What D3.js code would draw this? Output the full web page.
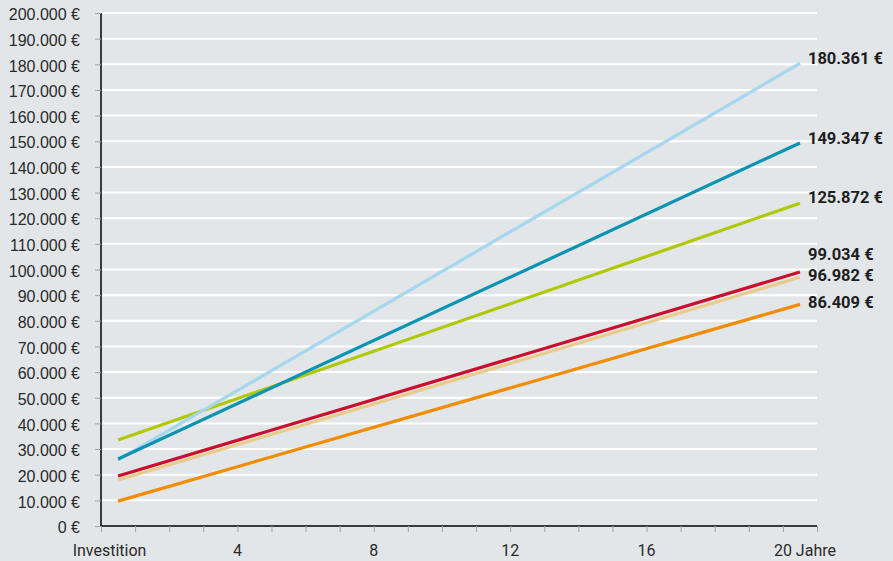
<!DOCTYPE html>
<html>
<head>
<meta charset="utf-8">
<script src="https://cdn.jsdelivr.net/npm/d3@7"></script>
<style>
  html, body { margin: 0; padding: 0; background: #e3e6e9; }
  svg { display: block; font-family: Roboto, "Noto Sans", sans-serif; }
</style>
</head>
<body>
<div id="chart"></div>
<script>
// data
const years = [0.5, 20.5];               // Investition -> 20 Jahre
const seriesNames = ["hellblau", "petrol", "gruen", "rot", "beige", "orange"];
const startValues = [25800, 26100, 33500, 19500, 17900, 9700];
const endValues   = [180361, 149347, 125872, 99034, 96982, 86409];
const endLabels   = ["180.361 €", "149.347 €", "125.872 €", "99.034 €", "96.982 €", "86.409 €"];
const yTicks = d3.range(0, 200001, 10000);
const xTickLabels = [
  {t: 0.25, label: "Investition"},
  {t: 4, label: "4"},
  {t: 8, label: "8"},
  {t: 12, label: "12"},
  {t: 16, label: "16"}
];

const colors = ["#a5d7ee", "#0a93b3", "#b0c800", "#c8102e", "#e9cc8c", "#f28c00"];
// labels are nudged so they don't collide
const labelDy = [-5, -5, -6, -18, -2, -2];

const width = 893, height = 561;
const margin = {left: 101, right: 76, top: 13, bottom: 35};

const svg = d3.select("#chart")
  .append("svg")
  .attr("width", width)
  .attr("height", height);

const x = d3.scaleLinear()
  .domain([0, 21])
  .range([margin.left, width - margin.right]);

const y = d3.scaleLinear()
  .domain([0, 200000])
  .range([height - margin.bottom, margin.top]);

const fmt = v => d3.format(",")(v).replace(/,/g, ".") + " €";

// white grid lines
svg.append("g")
  .selectAll("line")
  .data(yTicks.filter(d => d > 0))
  .join("line")
    .attr("x1", x(0))
    .attr("x2", x(21))
    .attr("y1", d => y(d))
    .attr("y2", d => y(d))
    .attr("stroke", "#fff")
    .attr("stroke-width", 2);

// y axis
const yAxis = svg.append("g")
  .attr("transform", `translate(${x(0)},0)`)
  .call(d3.axisLeft(y).tickValues(yTicks).tickFormat(fmt).tickSize(6).tickPadding(15));
yAxis.select(".domain").attr("stroke", "#000").attr("stroke-width", 1.5).attr("d", `M0,${y(0)}V${y(200000)}`);
yAxis.selectAll(".tick line").attr("stroke", "#a0a4a8");
yAxis.selectAll("text")
  .attr("dy", "0.42em")
  .style("font-size", "16px")
  .attr("fill", "#2b2b2b");

// x axis
const xAxis = svg.append("g")
  .attr("transform", `translate(0,${y(0)})`)
  .call(d3.axisBottom(x).tickValues(d3.range(0, 22)).tickFormat("").tickSize(6));
xAxis.select(".domain").attr("stroke", "#000").attr("stroke-width", 1.5).attr("d", `M${x(0)},0H${x(21)}`);
xAxis.selectAll(".tick line").attr("stroke", "#a0a4a8");

svg.append("g")
  .selectAll("text")
  .data(xTickLabels)
  .join("text")
    .attr("x", d => x(d.t))
    .attr("y", y(0) + 30)
    .attr("text-anchor", "middle")
    .style("font-size", "16px")
    .attr("fill", "#2b2b2b")
    .text(d => d.label);

svg.append("text")
  .attr("x", x(20) - 9)
  .attr("y", y(0) + 30)
  .style("font-size", "16px")
  .attr("fill", "#2b2b2b")
  .text("20 Jahre");

// lines
const series = seriesNames.map((name, i) => ({
  name: name,
  points: [[years[0], startValues[i]], [years[1], endValues[i]]],
  label: endLabels[i],
  i: i
}));

const line = d3.line()
  .x(d => x(d[0]))
  .y(d => y(d[1]));

// draw order: bottom first so petrol covers hellblau at the start
const order = [4, 5, 3, 2, 0, 1];
svg.append("g")
  .selectAll("path")
  .data(order.map(i => series[i]))
  .join("path")
    .attr("d", d => line(d.points))
    .attr("fill", "none")
    .attr("stroke", d => colors[d.i])
    .attr("stroke-width", 3.2)
    .attr("stroke-linecap", "butt");

// end labels
svg.append("g")
  .selectAll("text")
  .data(series)
  .join("text")
    .attr("x", x(years[1]) + 8)
    .attr("y", d => y(d.points[1][1]) + labelDy[d.i])
    .attr("dy", "0.35em")
    .style("font-size", "16.5px")
    .style("font-weight", "bold")
    .attr("fill", "#1e1e1e")
    .text(d => d.label);
</script>
</body>
</html>
